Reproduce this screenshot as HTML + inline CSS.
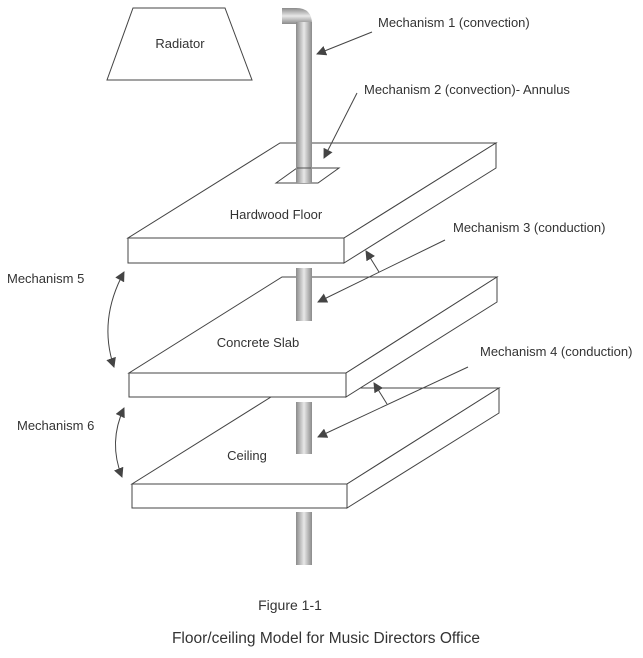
<!DOCTYPE html>
<html><head><meta charset="utf-8"><style>
body{margin:0;background:#fff;}
svg{display:block;font-family:"Liberation Sans",Arial,sans-serif;}
</style></head><body>
<svg width="643" height="658" viewBox="0 0 643 658" xmlns="http://www.w3.org/2000/svg">
<defs>
<linearGradient id="pg" x1="0" x2="1" y1="0" y2="0">
<stop offset="0" stop-color="#8a8a8a"/><stop offset="0.5" stop-color="#e8e8e8"/><stop offset="1" stop-color="#8a8a8a"/>
</linearGradient>
<linearGradient id="pgv" x1="0" x2="0" y1="0" y2="1">
<stop offset="0" stop-color="#8a8a8a"/><stop offset="0.5" stop-color="#e8e8e8"/><stop offset="1" stop-color="#8a8a8a"/>
</linearGradient>
<marker id="ah" markerWidth="10" markerHeight="10" refX="9" refY="5" orient="auto" markerUnits="userSpaceOnUse">
<path d="M0,0 L10,5 L0,10 z" fill="#444"/></marker>
<marker id="ahs" markerWidth="10" markerHeight="10" refX="1" refY="5" orient="auto" markerUnits="userSpaceOnUse">
<path d="M10,0 L0,5 L10,10 z" fill="#444"/></marker>
</defs>
<g fill="#fff" stroke="#444" stroke-width="1">
<polygon points="133,8 225,8 252,80 107,80"/>
<polygon points="271,397 358,388 499,388 347,484 132,484"/>
<polygon points="132,484 347,484 347,508 132,508"/>
<polygon points="347,484 499,388 499,413 347,508"/>
<polygon points="282,277 497,277 346,373 129,373"/>
<polygon points="129,373 346,373 346,397 129,397"/>
<polygon points="346,373 497,277 497,302 346,397"/>
<polygon points="280,143 496,143 344,238 128,238"/>
<polygon points="128,238 344,238 344,263 128,263"/>
<polygon points="344,238 496,143 496,168 344,263"/>
<polygon points="276,183 297,168 339,168 318,183"/>
</g>
<path d="M282,8 L296,8 Q312,8 312,24 L296,24 Q296,24 282,24 Z" fill="url(#pgv)"/>
<rect x="296" y="22" width="16" height="161" fill="url(#pg)"/>
<rect x="296" y="268" width="16" height="53" fill="url(#pg)"/>
<rect x="296" y="402" width="16" height="52" fill="url(#pg)"/>
<rect x="296" y="512" width="16" height="53" fill="url(#pg)"/>
<line x1="297" y1="168" x2="311" y2="168" stroke="#555" stroke-width="1"/>
<g stroke="#444" stroke-width="1" fill="none">
<line x1="372" y1="32" x2="317" y2="54" marker-end="url(#ah)"/>
<line x1="357" y1="93" x2="324" y2="158" marker-end="url(#ah)"/>
<line x1="445" y1="240" x2="318" y2="302" marker-end="url(#ah)"/>
<line x1="379" y1="272" x2="366" y2="251" marker-end="url(#ah)"/>
<line x1="468" y1="367" x2="318" y2="437" marker-end="url(#ah)"/>
<line x1="387" y1="404" x2="374" y2="383" marker-end="url(#ah)"/>
<path d="M124,272 Q98,320 114,367" marker-start="url(#ahs)" marker-end="url(#ah)"/>
<path d="M124,408 Q108,442 122,477" marker-start="url(#ahs)" marker-end="url(#ah)"/>
</g>
<g fill="#333" font-size="13">
<text x="180" y="48" text-anchor="middle">Radiator</text>
<text x="378" y="27">Mechanism 1 (convection)</text>
<text x="364" y="94">Mechanism 2 (convection)- Annulus</text>
<text x="453" y="232">Mechanism 3 (conduction)</text>
<text x="480" y="356">Mechanism 4 (conduction)</text>
<text x="7" y="283">Mechanism 5</text>
<text x="17" y="430">Mechanism 6</text>
<text x="276" y="219" text-anchor="middle">Hardwood Floor</text>
<text x="258" y="347" text-anchor="middle">Concrete Slab</text>
<text x="247" y="460" text-anchor="middle">Ceiling</text>
<text x="290" y="610" text-anchor="middle" font-size="14">Figure 1-1</text>
<text x="326" y="643" text-anchor="middle" font-size="15.5">Floor/ceiling Model for Music Directors Office</text>
</g>
</svg>
</body></html>
